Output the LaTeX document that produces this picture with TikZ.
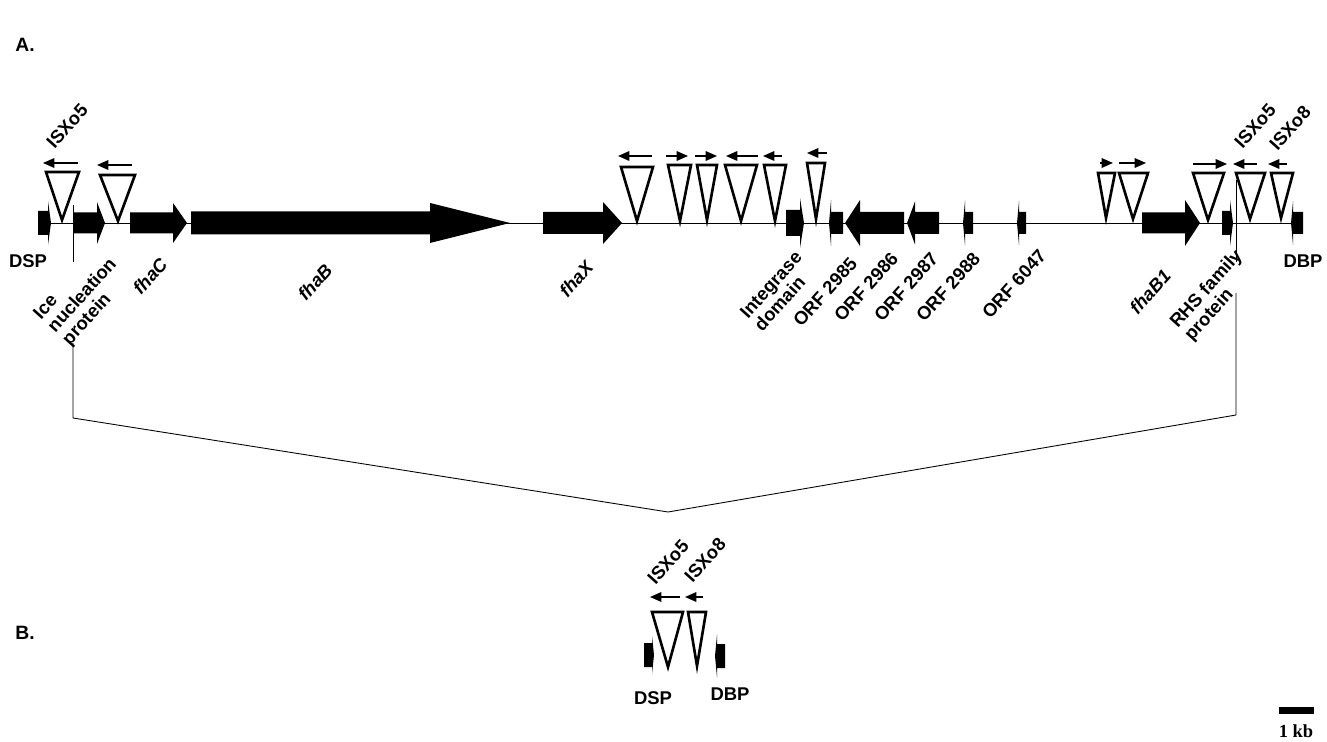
\documentclass[tikz,border=0pt]{standalone}
\usepackage{fontspec}
\setmainfont{Liberation Sans}
\newfontfamily\kbfont{Liberation Serif}
\usepackage{tikz}
\usetikzlibrary{arrows.meta}

\begin{document}
\begin{tikzpicture}[x=0.02cm,y=-0.02cm,
	lbl/.style={font=\bfseries\fontsize{10.5}{11}\selectfont,inner sep=0pt},
	rlbl/.style={lbl,rotate=48,align=left},
	iselem/.style={line width=1.5pt,line join=miter},
	orient/.style={line width=0.8pt,-{Triangle[length=6.5pt,width=5.5pt]}}]
	\useasboundingbox (0,0) rectangle (1327,742);
	\draw[line width=0.5pt] (38,223) -- (1303,223);
	\foreach \xa/\xb/\hl/\hh/\bw/\cy in {38/51/3/22/12/223, 73/105/8/21/10.5/223, 130/187/14/20/10.5/223, 191/510/80/20/11.5/223, 543/622/19/21/11/223, 786/804/4/25/13/223, 1142/1200/15/23/10.5/223, 1222/1233/3/23/12/223, 644/654/2/19/12/655}{
		\fill (\xa,\cy-\bw) -- (\xb-\hl,\cy-\bw) -- (\xb-\hl,\cy-\hh) -- (\xb,\cy) -- (\xb-\hl,\cy+\hh) -- (\xb-\hl,\cy+\bw) -- (\xa,\cy+\bw) -- cycle;}
	\foreach \xa/\xb/\hl/\hh/\bw/\cy in {829/843/2/23/11/223, 845/904/15/23/11/223, 907/939/8/21.5/11/223, 963/973/2/22.5/11/223, 1017/1026/2/22/11/223, 1291/1303/2/22/11/223, 715/725/2/21.5/12/656}{
		\fill (\xa,\cy) -- (\xa+\hl,\cy-\hh) -- (\xa+\hl,\cy-\bw) -- (\xb,\cy-\bw) -- (\xb,\cy+\bw) -- (\xa+\hl,\cy+\bw) -- (\xa+\hl,\cy+\hh) -- cycle;}
	\foreach \pl/\pr/\tp/\ax/\ay in {46/79/172/62/220, 100/135/175/118/221, 621/653/167/637/221, 668/691/165/680/221, 697/717/165/707/220, 725/757/165/741/221, 764/786/165/775/221, 807/825/163/816/219, 1098/1115/173/1106/218, 1119/1148/173/1133/219, 1193/1224/173/1208/220, 1236/1265/173/1250/219, 1271/1293/173/1281/218, 652/683/612/668/667, 688/706/612/697/666}{
		\draw[iselem] (\pl,\tp) -- (\pr,\tp) -- (\ax,\ay) -- cycle;}
	\foreach \yy/\fx/\tx in {163/78/43, 165/132/97, 156/652/618, 156/666/688, 156/695/717, 156/758/726, 156/782/763, 153/827/807, 163/1100/1113, 163/1119/1146, 164/1193/1227, 164/1257/1233, 164/1287/1268, 597/680/650, 597/703/685}{
		\draw[orient] (\fx,\yy) -- (\tx,\yy);}
	\coordinate (lt) at (73,205);
	\coordinate (lb) at (73,262);
	\coordinate (lc) at (73,343);
	\coordinate (lj) at (73,418);
	\coordinate (mj) at (668,512);
	\coordinate (rj) at (1236,415);
	\coordinate (rc) at (1236,293);
	\coordinate (rb) at (1236,262);
	\coordinate (rt) at (1236,180);
	\draw[line width=0.5pt] (lt) -- (lb);
	\draw[line width=0.5pt] (lc) -- (lj) -- (mj) -- (rj) -- (rc);
	\draw[line width=0.5pt] (rb) -- (rt);
	\node[lbl,font=\bfseries\fontsize{11}{12}\selectfont] (parta) at (25,45) {A.};
	\node[lbl,font=\bfseries\fontsize{11}{12}\selectfont] (partb) at (25,633) {B.};
	\node[rlbl] (isleft) at (67,126) {ISXo5};
	\node[lbl] (dspa) at (28,261) {DSP};
	\node[rlbl] (ice) at (83,296) {Ice\\nucleation\\protein};
	\node[rlbl] (fhac) at (150,276) {\itshape fhaC};
	\node[rlbl] (fhab) at (315,282) {\itshape fhaB};
	\node[rlbl] (fhax) at (576,279) {\itshape fhaX};
	\node[rlbl] (integ) at (778,291) {Integrase\\domain};
	\node[rlbl] (orfa) at (825,292) {ORF 2985};
	\node[rlbl] (orfb) at (866,287) {ORF 2986};
	\node[rlbl] (orfc) at (906,287) {ORF 2987};
	\node[rlbl] (orfd) at (948,287) {ORF 2988};
	\node[rlbl] (orfe) at (1014,284) {ORF 6047};
	\node[rlbl] (fhabone) at (1150,292) {\itshape fhaB1};
	\node[rlbl] (rhs) at (1214,296) {RHS family\\protein};
	\node[lbl] (dbpa) at (1303,261) {DBP};
	\node[rlbl] (isright) at (1255,126) {ISXo5};
	\node[rlbl] (iseight) at (1290,128) {ISXo8};
	\node[rlbl] (isb) at (668,562) {ISXo5};
	\node[rlbl] (iseightb) at (705,560) {ISXo8};
	\node[lbl] (dspb) at (653,698) {DSP};
	\node[lbl] (dbpb) at (730,694) {DBP};
	\fill (1279,707) rectangle (1314,714);
	\node[inner sep=0pt,font=\kbfont\bfseries\fontsize{10.5}{12}\selectfont] (kb) at (1296,731) {1 kb};
\end{tikzpicture}
\end{document}
